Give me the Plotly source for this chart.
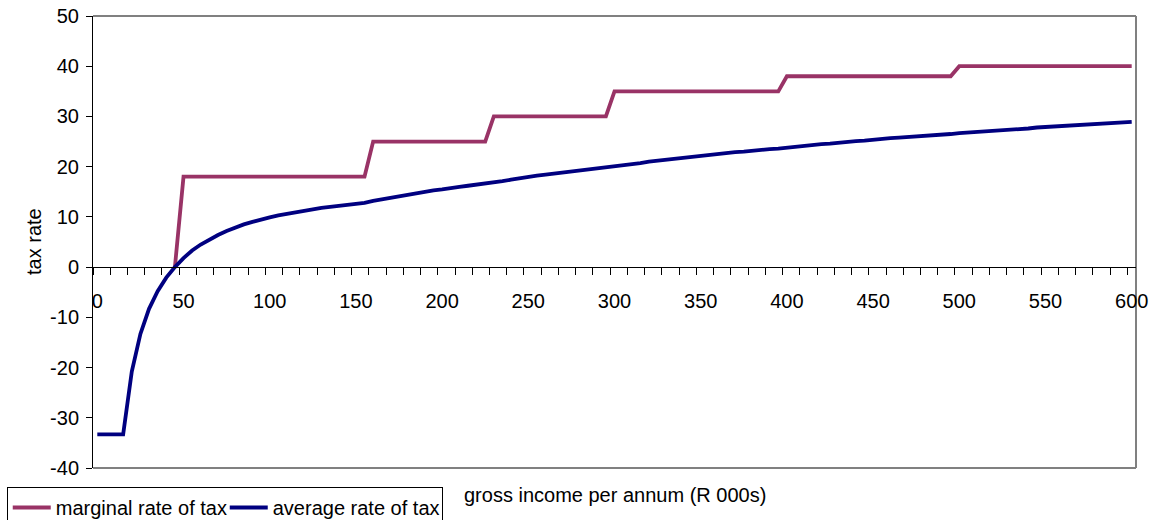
import plotly.graph_objects as go

# gross income per annum, R 000s (one category every R5 000)
income = list(range(0, 605, 5))

# marginal rate of tax (%) per income bracket; no value below the threshold
marginal_rate = ([None] * 9 + [0] + [18] * 22 + [25] * 14 + [30] * 14
                 + [35] * 20 + [38] * 20 + [40] * 21)

# average rate of tax (%)
average_rate = [
    -33.3, -33.3, -33.3, -33.3, -20.8, -13.3, -8.3, -4.8, -2.1, 0.0,
    1.8, 3.3, 4.5, 5.5, 6.4, 7.2, 7.9, 8.5, 9.0, 9.5,
    9.9, 10.3, 10.6, 11.0, 11.3, 11.5, 11.8, 12.0, 12.2, 12.4,
    12.6, 12.8, 13.2, 13.5, 13.9, 14.2, 14.5, 14.8, 15.0, 15.3,
    15.5, 15.8, 16.0, 16.2, 16.4, 16.6, 16.9, 17.1, 17.4, 17.7,
    17.9, 18.2, 18.4, 18.6, 18.8, 19.0, 19.2, 19.4, 19.6, 19.8,
    20.0, 20.3, 20.5, 20.7, 21.0, 21.2, 21.4, 21.6, 21.8, 22.0,
    22.2, 22.3, 22.5, 22.7, 22.9, 23.0, 23.2, 23.3, 23.5, 23.6,
    23.8, 24.0, 24.1, 24.3, 24.5, 24.6, 24.8, 24.9, 25.1, 25.2,
    25.4, 25.5, 25.7, 25.8, 25.9, 26.0, 26.2, 26.3, 26.4, 26.5,
    26.7, 26.8, 26.9, 27.0, 27.2, 27.3, 27.4, 27.5, 27.6, 27.8,
    27.9, 28.0, 28.1, 28.2, 28.3, 28.4, 28.5, 28.6, 28.7, 28.8,
    28.9,
]

x_labels = list(range(0, 650, 50))
y_ticks = list(range(-40, 60, 10))

FONT = "Liberation Sans, Arial, sans-serif"
FS = 20
PLUM = "#993366"
NAVY = "#000080"
GREY = "#808080"

fig = go.Figure()
fig.add_trace(go.Scatter(
    x=income, y=marginal_rate, mode="lines", name="marginal rate of tax",
    line=dict(color=PLUM, width=3.8), connectgaps=False,
))
fig.add_trace(go.Scatter(
    x=income, y=average_rate, mode="lines", name="average rate of tax",
    line=dict(color=NAVY, width=3.8),
))

# category spacing: each category occupies 5 units, ticks fall between categories
x_lo, x_hi = income[0] - 2.5, income[-1] + 2.5
minor_ticks = [x_lo + 10 * k for k in range(61)]

fig.update_layout(
    width=1152, height=520,
    margin=dict(l=93, r=16, t=16, b=52, autoexpand=False),
    paper_bgcolor="white", plot_bgcolor="white",
    font=dict(family=FONT, size=FS, color="black"),
    showlegend=True,
    legend=dict(
        orientation="h", x=-0.0827, xanchor="left", y=-0.042, yanchor="top",
        bordercolor="black", borderwidth=1, bgcolor="white",
        font=dict(family=FONT, size=FS, color="black"),
        itemwidth=38,
        entrywidth=164, entrywidthmode="pixels",
        tracegroupgap=0,
    ),
    xaxis=dict(
        range=[x_lo, x_hi], anchor="free", position=40 / 90,
        showgrid=False, zeroline=False,
        showline=True, linecolor="black", linewidth=1,
        tickmode="array", tickvals=x_labels, ticktext=[str(v) for v in x_labels],
        ticks="outside", ticklen=7, tickcolor="rgba(0,0,0,0)",
        ticklabelstandoff=9,
        tickfont=dict(family=FONT, size=FS, color="black"),
        minor=dict(tickmode="array", tickvals=minor_ticks, ticks="outside",
                   ticklen=7, tickcolor="black", tickwidth=1, showgrid=False),
    ),
    yaxis=dict(
        range=[-40, 50], tickmode="array", tickvals=y_ticks,
        ticktext=[str(v) for v in y_ticks],
        showgrid=False, zeroline=False,
        showline=True, linecolor="black", linewidth=1,
        ticks="outside", ticklen=6, tickcolor="black",
        ticklabelstandoff=3,
        tickfont=dict(family=FONT, size=FS, color="black"),
    ),
)

# grey plot-area frame on top, right and bottom
for x0, y0, x1, y1 in [(0, 1, 1, 1), (1, 0, 1, 1), (0, 0, 1, 0)]:
    fig.add_shape(type="line", xref="paper", yref="paper",
                  x0=x0, y0=y0, x1=x1, y1=y1,
                  line=dict(color=GREY, width=2), layer="below")

fig.add_annotation(
    text="tax rate", xref="paper", yref="paper",
    x=(34 - 93) / 1043, y=0.5, xanchor="center", yanchor="middle",
    textangle=-90, showarrow=False,
    font=dict(family=FONT, size=FS, color="black"),
)
fig.add_annotation(
    text="gross income per annum (R 000s)", xref="paper", yref="paper",
    x=(615 - 93) / 1043, y=(468 - 495) / 452, xanchor="center", yanchor="middle",
    showarrow=False,
    font=dict(family=FONT, size=FS, color="black"),
)

fig.write_html("out.html")
